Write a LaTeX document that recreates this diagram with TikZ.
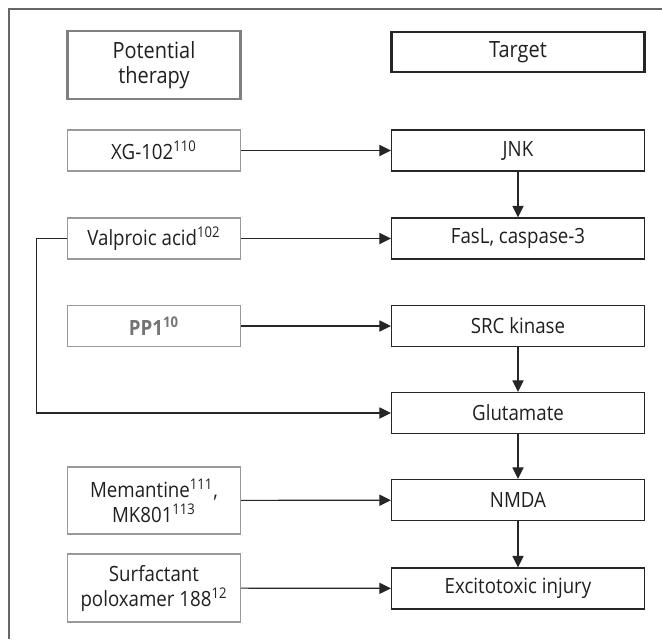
\documentclass[tikz,border=0pt]{standalone}
\usepackage{fontspec}
\setmainfont{Open Sans}[FakeStretch=0.89]
\usepackage{tikz}
\usetikzlibrary{arrows.meta,positioning}
\definecolor{framegray}{gray}{0.4}
\definecolor{boxgray}{gray}{0.6}
\tikzset{
  tbox/.style={rectangle, draw=black!85, line width=0.6pt, align=center,
              minimum width=126.5pt, minimum height=20.5pt, inner sep=1pt,
              font=\fontsize{10.5}{12.5}\selectfont, text=black!88},
  dbox/.style={rectangle, draw=boxgray, line width=0.6pt, align=center,
              minimum width=86.5pt, minimum height=#1, inner sep=1pt,
              font=\fontsize{10.5}{12.5}\selectfont, text=black!88},
  dbox/.default={20.5pt},
  headbox/.style={line width=1.2pt, font=\fontsize{11.2}{12.5}\selectfont},
  arr/.style={-{Triangle[length=5.8pt,width=5.6pt]}, line width=0.6pt, black!85},
}

\begin{document}
\begin{tikzpicture}[x=0.5pt, y=-0.5pt]
\useasboundingbox (0,0) rectangle (662,639);
% frame (only top and left edge are visible)
\draw[framegray, line width=0.6pt] (662,9) -- (9,9) -- (9,639);
% headers
\node[dbox=34pt, headbox, draw=black!50] (hther) at (154,65) {Potential\\therapy};
\node[tbox, headbox, minimum height=20pt] (htarg) at (518,52) {Target};
% targets
\node[tbox] (jnk) at (518,150.5) {JNK};
\node[tbox] (fasl) at (518,238.5) {FasL, caspase-3};
\node[tbox] (src) at (518,326) {SRC kinase};
\node[tbox] (glu) at (518,413) {Glutamate};
\node[tbox] (nmda) at (518,500) {NMDA};
\node[tbox] (exc) at (518,588.5) {Excitotoxic injury};
% therapies
\node[dbox] (xg) at (154,150.5) {XG-102\textsuperscript{110}};
\node[dbox] (valp) at (154,238.5) {Valproic acid\textsuperscript{102}};
\node[dbox, text=black!55, font=\fontsize{10.5}{12.5}\selectfont\bfseries] (pp1) at (154,326) {PP1\textsuperscript{10}};
\node[dbox=33.5pt] (mem) at (154,500.5) {Memantine\textsuperscript{111},\\MK801\textsuperscript{113}};
\node[dbox=34pt] (surf) at (154,588) {Surfactant\\poloxamer 188\textsuperscript{12}};
% therapy -> target
\draw[arr] (xg) -- (jnk);
\draw[arr] (valp) -- (fasl);
\draw[arr] (pp1) -- (src);
\draw[arr] (mem) -- (nmda);
\draw[arr] (surf) -- (exc);
\draw[arr] (valp.west) -- ++(-30.5,0) |- (glu.west);
% down the target chain
\draw[arr] (jnk) -- (fasl);
\draw[arr] (src) -- (glu);
\draw[arr] (glu) -- (nmda);
\draw[arr] (nmda) -- (exc);
\end{tikzpicture}
\end{document}
